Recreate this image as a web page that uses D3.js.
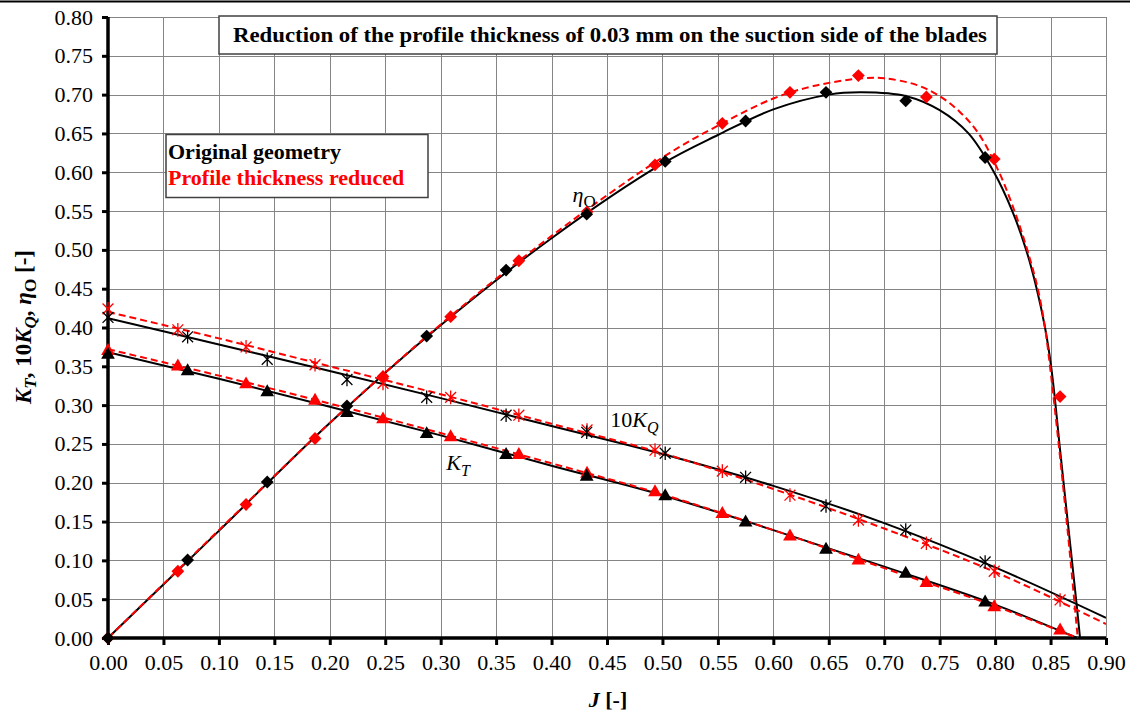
<!DOCTYPE html>
<html>
<head>
<meta charset="utf-8">
<script src="https://cdn.jsdelivr.net/npm/d3@7"></script>
<style>
  html,body{margin:0;padding:0;background:#fff;}
  #chart{width:1130px;height:716px;}
  text{font-family:"Liberation Serif","Times New Roman",serif;}
</style>
</head>
<body>
<div id="chart"></div>
<script>
// ticks
const xTicks = [0,0.05,0.10,0.15,0.20,0.25,0.30,0.35,0.40,0.45,0.50,0.55,0.60,0.65,0.70,0.75,0.80,0.85,0.90];
const yTicks = [0,0.05,0.10,0.15,0.20,0.25,0.30,0.35,0.40,0.45,0.50,0.55,0.60,0.65,0.70,0.75,0.80];

// original geometry - measured points
const origJ   = [0,0.0718,0.1436,0.2155,0.2874,0.359,0.4317,0.5025,0.575,0.6475,0.7194,0.791];
const origKT  = [0.366,0.345,0.318,0.291,0.264,0.237,0.209,0.184,0.150,0.115,0.084,0.047];
const origKQ  = [0.413,0.388,0.359,0.333,0.310,0.287,0.265,0.238,0.207,0.170,0.139,0.098];
const origEta = [0,0.1005,0.201,0.299,0.389,0.474,0.546,0.614,0.666,0.703,0.692,0.619];

// reduced thickness - measured points
const redJ   = [0,0.063,0.1245,0.1867,0.248,0.309,0.3705,0.432,0.4933,0.554,0.615,0.6767,0.738,0.7992,0.8586];
const redKT  = [0.371,0.351,0.328,0.307,0.283,0.260,0.237,0.213,0.189,0.161,0.132,0.101,0.072,0.041,0.011];
const redKQ  = [0.424,0.397,0.375,0.352,0.328,0.310,0.287,0.268,0.242,0.215,0.184,0.152,0.122,0.086,0.049];
const redEta = [0,0.086,0.172,0.257,0.337,0.414,0.486,0.549,0.6095,0.663,0.703,0.7246,0.697,0.617,0.311];

// fitted curves
const fitOrigKTJ = [0,0.1,0.2,0.3,0.4,0.5,0.6,0.7,0.8,0.874];
const fitOrigKT  = [0.368,0.334,0.298,0.261,0.222,0.184,0.139,0.092,0.043,0];
const fitRedKTJ  = [0,0.1,0.2,0.3,0.4,0.5,0.6,0.7,0.8,0.8745];
const fitRedKT   = [0.372,0.338,0.302,0.264,0.225,0.185,0.139,0.090,0.041,0];
const fitOrigKQJ = [0,0.1,0.2,0.3,0.4,0.5,0.6,0.7,0.8,0.9];
const fitOrigKQ  = [0.412,0.378,0.344,0.309,0.273,0.237,0.196,0.148,0.091,0.026];
const fitRedKQJ  = [0,0.1,0.2,0.3,0.4,0.5,0.6,0.7,0.8,0.9];
const fitRedKQ   = [0.420,0.386,0.350,0.314,0.276,0.238,0.192,0.141,0.085,0.018];
const fitOrigEtaJ = [0,0.1,0.2,0.3,0.4,0.5,0.55,0.6,0.65,0.68,0.72,0.75,0.776,0.799,0.8155,0.828,0.8375,0.845,0.8505,0.8545,0.858,0.8655,0.873,0.8766];
const fitOrigEta  = [0,0.138,0.277,0.403,0.515,0.611,0.648,0.681,0.700,0.703,0.698,0.680,0.650,0.600,0.550,0.500,0.450,0.400,0.350,0.300,0.250,0.150,0.050,0];
const fitRedEtaJ  = [0,0.1,0.2,0.3,0.4,0.5,0.55,0.6,0.636,0.68,0.70,0.729,0.75,0.768,0.785,0.8036,0.8175,0.829,0.8385,0.845,0.8495,0.8535,0.861,0.868,0.8745];
const fitRedEta   = [0,0.139,0.277,0.404,0.518,0.619,0.660,0.695,0.711,0.721,0.721,0.7126,0.698,0.678,0.650,0.600,0.550,0.500,0.450,0.400,0.350,0.300,0.200,0.100,0];

const W = 1130, H = 716;
const margin = {top:17,left:108,right:24,bottom:78};
const width = W - margin.left - margin.right;
const height = H - margin.top - margin.bottom;

const svg = d3.select('#chart').append('svg').attr('width',W).attr('height',H);

// top frame line
svg.append('line').attr('x1',0).attr('x2',W).attr('y1',1.5).attr('y2',1.5)
  .attr('stroke','#000').attr('stroke-width',2);

const g = svg.append('g').attr('transform',`translate(${margin.left},${margin.top})`);

const x = d3.scaleLinear().domain([0,0.9]).range([0,width]);
const y = d3.scaleLinear().domain([0,0.8]).range([height,0]);

// grid
g.append('g').selectAll('line').data(xTicks.slice(1)).join('line')
  .attr('x1',d=>Math.round(x(d))+0.5).attr('x2',d=>Math.round(x(d))+0.5)
  .attr('y1',0).attr('y2',height).attr('stroke','#858585').attr('stroke-width',1);
g.append('g').selectAll('line').data(yTicks.slice(1)).join('line')
  .attr('y1',d=>Math.round(y(d))+0.5).attr('y2',d=>Math.round(y(d))+0.5)
  .attr('x1',0).attr('x2',width).attr('stroke','#858585').attr('stroke-width',1);

// axes
const yAxis = d3.axisLeft(y).tickValues(yTicks).tickFormat(d3.format('.2f')).tickSize(6).tickPadding(9);
const xAxis = d3.axisBottom(x).tickValues(xTicks).tickFormat(d3.format('.2f')).tickSize(7).tickPadding(9);
const gy = g.append('g').call(yAxis);
const gx = g.append('g').attr('transform',`translate(0,${height})`).call(xAxis);
[gx,gy].forEach(a=>{
  a.attr('font-size',null).attr('font-family',null);
  a.select('.domain').remove();
  a.selectAll('.tick line').attr('stroke','#000').attr('stroke-width',3);
  a.selectAll('.tick text').style('font-family','"Liberation Serif", serif').style('font-size','22px').attr('fill','#000');
});
g.append('line').attr('x1',0).attr('x2',0).attr('y1',0).attr('y2',height+1.5).attr('stroke','#000').attr('stroke-width',3.5);
g.append('line').attr('x1',-1.5).attr('x2',width).attr('y1',height).attr('y2',height).attr('stroke','#000').attr('stroke-width',3.5);

// curves
const line = d3.line().x(d=>x(d[0])).y(d=>y(d[1])).curve(d3.curveMonotoneX);
const lineCR = d3.line().x(d=>x(d[0])).y(d=>y(d[1])).curve(d3.curveCatmullRom.alpha(0.5));
const zip = (a,b)=>a.map((v,i)=>[v,b[i]]);
svg.append('clipPath').attr('id','plotclip').append('rect').attr('width',width).attr('height',height);
const curves = g.append('g').attr('clip-path','url(#plotclip)');

function drawFit(J,V,color,dashed,gen){
  curves.append('path').datum(zip(J,V)).attr('d',gen)
    .attr('fill','none').attr('stroke',color).attr('stroke-width',2)
    .attr('stroke-dasharray',dashed?'7,4':null);
}
drawFit(fitOrigKTJ,fitOrigKT,'#000',false,line);
drawFit(fitOrigKQJ,fitOrigKQ,'#000',false,line);
drawFit(fitOrigEtaJ,fitOrigEta,'#000',false,lineCR);
drawFit(fitRedKTJ,fitRedKT,'#ff0000',true,line);
drawFit(fitRedKQJ,fitRedKQ,'#ff0000',true,line);
drawFit(fitRedEtaJ,fitRedEta,'#ff0000',true,lineCR);

// markers
const tri = d3.symbol().type(d3.symbolTriangle).size(82)();
const dia = d3.symbol().type(d3.symbolSquare).size(82)();
const r = 6.8;
const star = `M0,${-r}L0,${r}M${-r*0.8},${-r*0.8}L${r*0.8},${r*0.8}M${-r*0.8},${r*0.8}L${r*0.8},${-r*0.8}`;

function drawMarks(J,V,color,kind){
  const m = g.append('g');
  const sel = m.selectAll('path').data(zip(J,V)).join('path');
  if(kind==='tri'){
    sel.attr('d',tri).attr('fill',color).attr('transform',d=>`translate(${x(d[0])},${y(d[1])+1})`);
  } else if(kind==='dia'){
    sel.attr('d',dia).attr('fill',color).attr('transform',d=>`translate(${x(d[0])},${y(d[1])}) rotate(45)`);
  } else {
    sel.attr('d',star).attr('fill','none').attr('stroke',color).attr('stroke-width',1.3)
      .attr('transform',d=>`translate(${x(d[0])},${y(d[1])})`);
  }
}
drawMarks(redJ,redKQ,'#ff0000','star');
drawMarks(redJ,redKT,'#ff0000','tri');
drawMarks(redJ,redEta,'#ff0000','dia');
drawMarks(origJ,origKQ,'#000','star');
drawMarks(origJ,origKT,'#000','tri');
drawMarks(origJ,origEta,'#000','dia');

// curve labels
const lab1 = g.append('text').attr('x',x(0.419)).attr('y',y(0.562)).attr('font-size',22).attr('fill','#000');
lab1.append('tspan').attr('font-style','italic').text('η');
lab1.append('tspan').attr('font-size',17).attr('dy',5).text('O');
const lab2 = g.append('text').attr('x',x(0.453)).attr('y',y(0.272)).attr('font-size',22).attr('fill','#000');
lab2.append('tspan').text('10');
lab2.append('tspan').attr('font-style','italic').text('K');
lab2.append('tspan').attr('font-style','italic').attr('font-size',16).attr('dy',6).text('Q');
const lab3 = g.append('text').attr('x',x(0.305)).attr('y',y(0.216)).attr('font-size',22).attr('fill','#000');
lab3.append('tspan').attr('font-style','italic').text('K');
lab3.append('tspan').attr('font-style','italic').attr('font-size',16).attr('dy',6).text('T');

// title box
const tb = svg.append('g');
tb.append('rect').attr('x',219).attr('y',16).attr('width',778).attr('height',38)
  .attr('fill','#fff').attr('stroke','#404040').attr('stroke-width',1.5);
tb.append('text').attr('x',610).attr('y',42).attr('text-anchor','middle')
  .attr('font-size',21).attr('font-weight','bold').attr('fill','#000')
  .attr('textLength',754).attr('lengthAdjust','spacingAndGlyphs')
  .text('Reduction of the profile thickness of 0.03 mm on the suction side of the blades');

// legend box
const lg = svg.append('g');
lg.append('rect').attr('x',166).attr('y',134.5).attr('width',262).attr('height',63)
  .attr('fill','#fff').attr('stroke','#404040').attr('stroke-width',1.5);
lg.append('text').attr('x',168).attr('y',159).attr('font-size',22).attr('font-weight','bold').attr('fill','#000').text('Original geometry');
lg.append('text').attr('x',168).attr('y',185).attr('font-size',22).attr('font-weight','bold').attr('fill','#ff0000').text('Profile thickness reduced');

// axis titles
const yl = svg.append('text').attr('transform','translate(31,327) rotate(-90)').attr('text-anchor','middle')
  .attr('font-size',23).attr('font-weight','bold').attr('fill','#000');
yl.append('tspan').attr('font-style','italic').text('K');
yl.append('tspan').attr('font-style','italic').attr('font-size',17).attr('dy',5).text('T');
yl.append('tspan').attr('dy',-5).text(', 10');
yl.append('tspan').attr('font-style','italic').text('K');
yl.append('tspan').attr('font-style','italic').attr('font-size',17).attr('dy',5).text('Q');
yl.append('tspan').attr('dy',-5).text(', ');
yl.append('tspan').attr('font-style','italic').text('η');
yl.append('tspan').attr('font-size',17).attr('dy',5).text('O');
yl.append('tspan').attr('dy',-5).text(' [-]');

const xl = svg.append('text').attr('x',608).attr('y',707).attr('text-anchor','middle')
  .attr('font-size',22).attr('font-weight','bold').attr('fill','#000');
xl.append('tspan').attr('font-style','italic').text('J');
xl.append('tspan').text(' [-]');
</script>
</body>
</html>
